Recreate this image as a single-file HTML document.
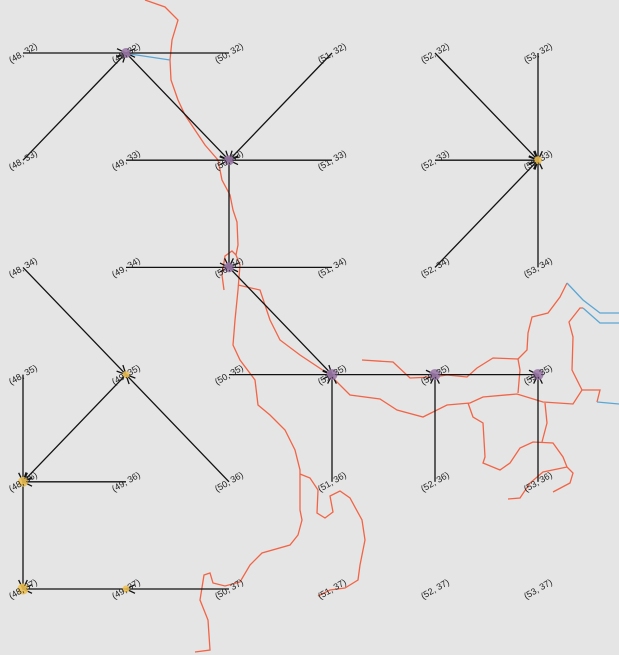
<!DOCTYPE html>
<html><head><meta charset="utf-8"><style>
html,body{margin:0;padding:0;background:#e5e5e5;}
svg{display:block;font-family:"Liberation Sans",sans-serif;}
</style></head><body>
<svg id="chart" width="619" height="655" viewBox="0 0 619 655" xmlns="http://www.w3.org/2000/svg">
<rect width="619" height="655" fill="#e5e5e5"/>
<g id="rivers" fill="none" stroke-width="1.3">
<polyline stroke="#f26446" points="145,0 165,7 178,20 172,40 170,60 171,80 178,100 185,115 195,130 205,145 218,160 222,180 230,195 233,210 237,222 238,245 236,255 232,251 225,256 222,275 224,290"/>
<polyline stroke="#f26446" points="236,255 240,265 238,290 235,320 233,345 240,360 255,380 258,405 270,415 285,430 295,450 300,470 300,510 302,520 298,535 290,545 262,553 250,565 240,582 225,586 213,583 210,573 204,575 200,600 208,620 210,650 195,652"/>
<polyline stroke="#f26446" points="300,474 310,478 318,490 317,513 325,518 333,512 330,496 340,491 350,498 362,520 365,540 360,565 358,580 345,588 330,590 318,596"/>
<polyline stroke="#f26446" points="238,285 260,290 270,320 280,340 300,355 330,375 350,395 380,399 397,410 423,417 447,405 470,403 483,397 517,394 543,402 573,404 582,390 600,390 597,402"/>
<polyline stroke="#f26446" points="362,360 393,362 410,378 433,377 447,375 467,377 477,368 493,358 518,359 520,370 518,393"/>
<polyline stroke="#f26446" points="518,359 527,350 528,333 532,317 548,313 560,297 567,283"/>
<polyline stroke="#f26446" points="582,390 572,370 573,337 569,322 580,308 583,308"/>
<polyline stroke="#f26446" points="468,403 473,417 483,423 485,457 483,463 500,470 510,463 520,448 533,442 553,443 563,457 567,467 573,473 570,483 553,492"/>
<polyline stroke="#f26446" points="567,467 543,472 530,483 520,498 508,499"/>
<polyline stroke="#f26446" points="545,403 547,423 542,442"/>
<polyline stroke="#5aa7d6" points="567,283 583,300 600,313 619,313"/>
<polyline stroke="#5aa7d6" points="583,308 600,323 619,323"/>
<polyline stroke="#5aa7d6" points="597,402 619,404"/>
<polyline stroke="#5aa7d6" points="130,54 170,60"/>
</g>
<g id="edges"></g>
<g id="nodes"></g>
<g id="labels"></g>
</svg>
<script>
const lons = [48, 49, 50, 51, 52, 53];
const lats = [32, 33, 34, 35, 36, 37];
const edgeFrom = [[48,32],[50,32],[48,33],[49,32],[51,32],[49,33],[51,33],[50,33],[49,34],[51,34],[50,34],[52,32],[53,32],[52,33],[52,34],[53,34],[48,34],[50,35],[51,36],[51,35],[52,36],[52,35],[53,36],[49,35],[48,35],[49,36],[50,36],[48,36],[49,37],[50,37]];
const edgeTo   = [[49,32],[49,32],[49,32],[50,33],[50,33],[50,33],[50,33],[50,34],[50,34],[50,34],[51,35],[53,33],[53,33],[53,33],[53,33],[53,33],[49,35],[51,35],[51,35],[52,35],[52,35],[53,35],[53,35],[48,36],[48,36],[48,36],[49,35],[48,37],[48,37],[49,37]];
const markedNodes = [[49,32],[50,33],[50,34],[51,35],[52,35],[53,35],[53,33],[48,36],[48,37],[49,35],[49,37]];
const markedKind = ['p','p','p','p','p','p','o','o','o','o','o'];
const markedSize = [5,5,5,5.5,5.5,5.5,4,5,5.5,3.5,3.5];

const NS = 'http://www.w3.org/2000/svg';
function xs(lon){ return 23 + (lon - 48) * 103; }
function ys(lat){ return 53 + (lat - 32) * 107.2; }

const eg = document.getElementById('edges');
for (let i = 0; i < edgeFrom.length; i++) {
  const x1 = xs(edgeFrom[i][0]), y1 = ys(edgeFrom[i][1]);
  const x2 = xs(edgeTo[i][0]), y2 = ys(edgeTo[i][1]);
  const g = document.createElementNS(NS, 'g');
  
  
  const ln = document.createElementNS(NS, 'line');
  ln.setAttribute('x1', x1); ln.setAttribute('y1', y1);
  ln.setAttribute('x2', x2); ln.setAttribute('y2', y2);
  ln.setAttribute('stroke', '#111'); ln.setAttribute('stroke-width', '1.3');
  g.appendChild(ln);
  const a = Math.atan2(y2 - y1, x2 - x1), L = 10, w = 0.45;
  const p = document.createElementNS(NS, 'polyline');
  p.setAttribute('points', (x2 - L*Math.cos(a - w)) + ',' + (y2 - L*Math.sin(a - w)) + ' ' + x2 + ',' + y2 + ' ' + (x2 - L*Math.cos(a + w)) + ',' + (y2 - L*Math.sin(a + w)));
  p.setAttribute('fill', 'none'); p.setAttribute('stroke', '#111'); p.setAttribute('stroke-width', '1.3');
  g.appendChild(p);
  eg.appendChild(g);
}

const ng = document.getElementById('nodes');
for (let i = 0; i < markedNodes.length; i++) {
  const c = document.createElementNS(NS, 'circle');
  
  
  c.setAttribute('cx', xs(markedNodes[i][0]));
  c.setAttribute('cy', ys(markedNodes[i][1]));
  c.setAttribute('r', markedSize[i]);
  c.setAttribute('fill', markedKind[i] === 'p' ? '#9b7aa8' : '#ecc052');
  c.setAttribute('opacity', '0.9');
  ng.appendChild(c);
}

const lg = document.getElementById('labels');
for (const lat of lats) {
  for (const lon of lons) {
    const t = document.createElementNS(NS, 'text');
    
    
    const x = xs(lon), y = ys(lat);
    t.setAttribute('x', x); t.setAttribute('y', y + 3);
    t.setAttribute('text-anchor', 'middle');
    t.setAttribute('font-size', '9');
    t.setAttribute('fill', '#222');
    t.setAttribute('transform', 'rotate(-30 ' + x + ' ' + y + ')');
    t.textContent = '(' + lon + ', ' + lat + ')';
    lg.appendChild(t);
  }
}
</script>
</body></html>
